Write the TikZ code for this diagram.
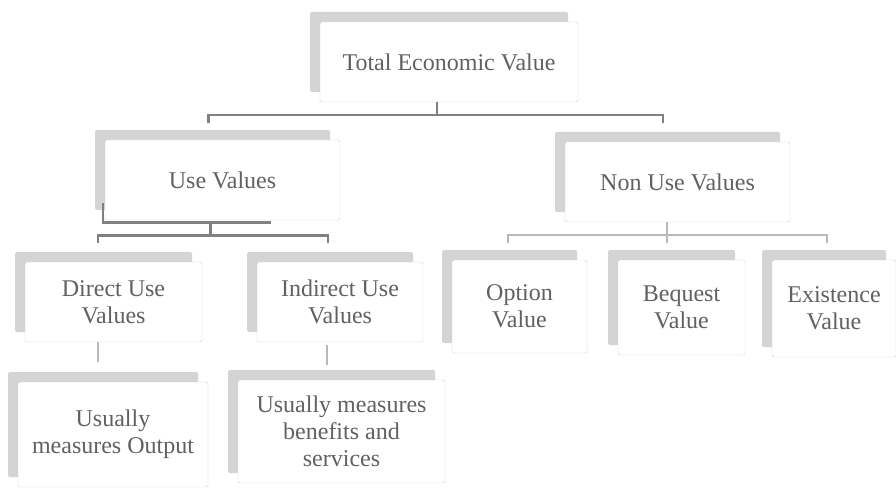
\documentclass[tikz,border=0pt]{standalone}
\usepackage{fontspec}
\setmainfont{Liberation Serif}
\usetikzlibrary{shapes}
\usetikzlibrary{shadows}

\begin{document}
\begin{tikzpicture}[x=1pt,y=-1pt]
					\tikzstyle{card}=[rectangle,draw=black!18,fill=white,rounded corners=1.5pt,align=center,inner sep=0pt,text=black!62,font=\fontsize{24}{27}\selectfont,copy shadow={shadow xshift=-10pt,shadow yshift=10pt,fill=black!17,draw=none}]
					\tikzstyle{link}=[draw=black!50,line width=2.6pt]
					\tikzstyle{thinlink}=[draw=black!28,line width=1.5pt]
					\useasboundingbox (0,0) rectangle (896,489);
					
					\node[card,minimum width=258pt,minimum height=80pt] (tev) at (449,62) {Total Economic Value};
					\node[card,minimum width=235pt,minimum height=80pt] (use) at (222.5,180) {Use Values};
					\node[card,minimum width=225pt,minimum height=80pt] (nonuse) at (677.5,182) {Non Use Values};
					\node[card,minimum width=177pt,minimum height=80pt] (direct) at (113.5,302) {Direct Use\\Values};
					\node[card,minimum width=166pt,minimum height=80pt] (indirect) at (340,302) {Indirect Use\\Values};
					\node[card,minimum width=135pt,minimum height=93pt] (option) at (519.5,306.5) {Option\\Value};
					\node[card,minimum width=127pt,minimum height=95pt] (bequest) at (681.5,307.5) {Bequest\\Value};
					\node[card,minimum width=124pt,minimum height=97pt] (existence) at (834,308.5) {Existence\\Value};
					\node[card,minimum width=190pt,minimum height=105pt] (output) at (113,434.5) {Usually\\measures Output};
					\node[card,minimum width=207pt,minimum height=103pt] (benefits) at (341.5,431.5) {Usually measures\\benefits and\\services};
					
					\draw[link] ([xshift=-12pt]tev.south) -- ++(0,13) coordinate (tj);
					\draw[link] ([xshift=-14pt,yshift=17pt]use.north) |- (tj) -| ([xshift=-14.5pt,yshift=19pt]nonuse.north);
					
					\draw[link] ([xshift=-2pt,yshift=17pt]use.south west) |- ([xshift=48pt,yshift=-2pt]use.south);
					\draw[link] ([xshift=-12pt,yshift=-2pt]use.south) -- ++(0,13) coordinate (uj);
					\draw[link] ([xshift=-15.5pt,yshift=19pt]direct.north) |- (uj) -| ([xshift=-12pt,yshift=19pt]indirect.north);
					
					\draw[thinlink] ([xshift=-10.5pt]nonuse.south) -- ++(0,13) coordinate (nj) -- ([xshift=-14.5pt,yshift=17pt]bequest.north);
					\draw[thinlink] ([xshift=-11.5pt,yshift=17pt]option.north) |- (nj) -| ([xshift=-7pt,yshift=17pt]existence.north);
					
					\draw[thinlink] ([xshift=-15.5pt]direct.south) -- ++(0,20);
					\draw[thinlink] ([xshift=-13pt,yshift=-3pt]indirect.south) -- ++(0,20);
\end{tikzpicture}
\end{document}
